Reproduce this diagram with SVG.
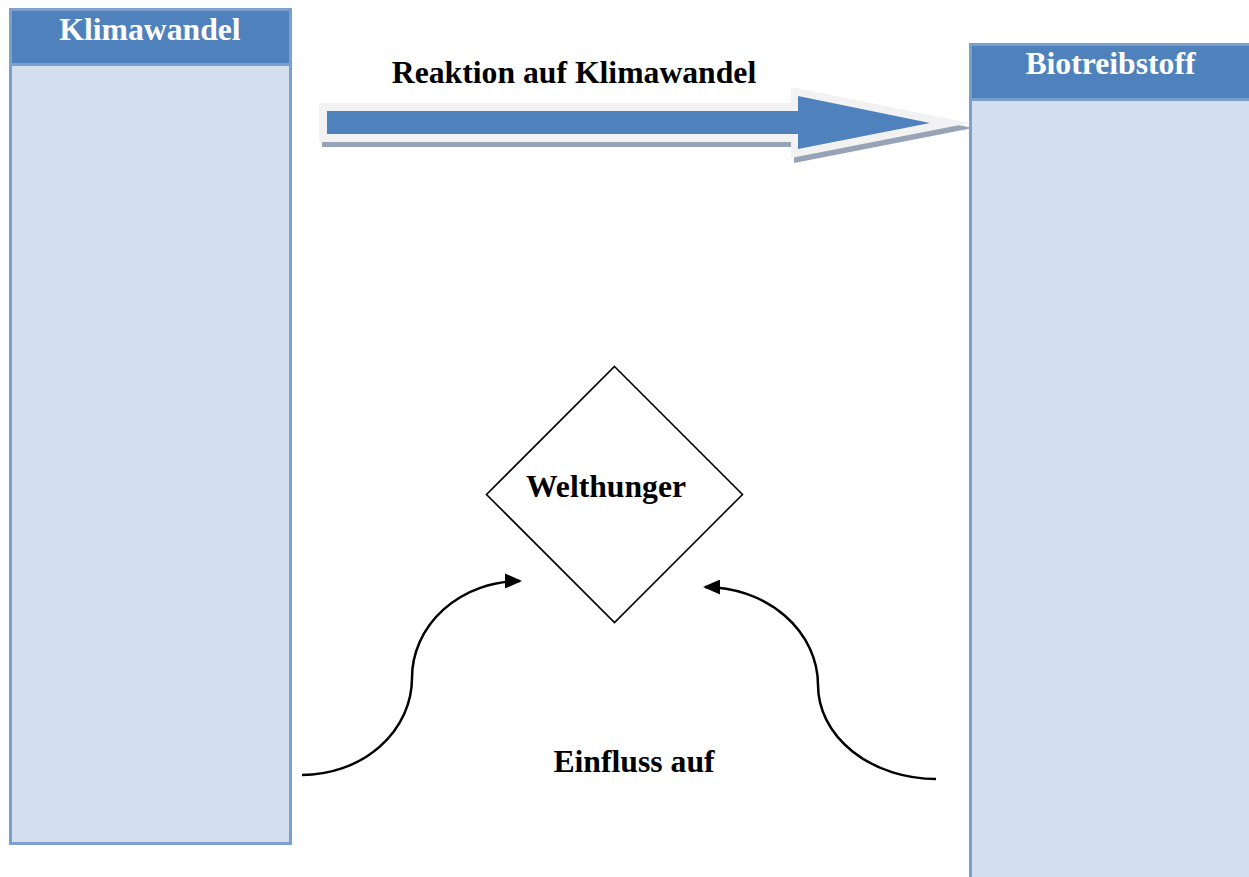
<svg xmlns="http://www.w3.org/2000/svg" width="1249" height="877" viewBox="0 0 1249 877">
<style>
.box{fill:#d3dfee;stroke:#7ba0cd;stroke-width:3}
.hdr{fill:#4f81bd}
.sep{stroke:#7ba0cd;stroke-width:3}
.t{font-family:"Liberation Serif","Times New Roman",serif;font-weight:bold;font-size:31.7px}
.w{fill:#ffffff}
.k{fill:#000000}
.curve{fill:none;stroke:#000;stroke-width:2.5}
</style>
<defs>
<marker id="ah" viewBox="0 0 17 15" refX="15" refY="7.5" markerWidth="17" markerHeight="15" markerUnits="userSpaceOnUse" orient="auto">
<path d="M0,0 L17,7.5 L0,15 Z" fill="#000"/>
</marker>
</defs>
<rect width="1249" height="877" fill="#ffffff"/>
<g id="klimawandel">
<rect class="box" x="10.5" y="9.5" width="280" height="834"/>
<rect class="hdr" x="12" y="11" width="277" height="52"/>
<line class="sep" x1="12" y1="64.5" x2="289" y2="64.5"/>
<text class="t w" x="150" y="40" text-anchor="middle">Klimawandel</text>
</g>
<g id="biotreibstoff">
<rect class="box" x="970.5" y="44.5" width="280" height="840"/>
<rect class="hdr" x="972" y="46" width="277" height="52"/>
<line class="sep" x1="972" y1="99.5" x2="1249" y2="99.5"/>
<text class="t w" x="1110.5" y="74" text-anchor="middle">Biotreibstoff</text>
</g>
<g id="welthunger">
<polygon points="614.5,366.5 742.5,494.5 614.5,622.5 486.5,494.5" fill="#ffffff" stroke="#000" stroke-width="1.6"/>
<text class="t k" x="606" y="497" text-anchor="middle">Welthunger</text>
</g>
<g id="connectors">
<g id="block-arrow">
<polygon points="322,108 794,108 794,92 973,128 794,163 794,147 322,147" fill="#97a3b6"/>
<polygon points="319,103 791,103 791,87 970,123 791,158 791,142 319,142" fill="#f2f2f2"/>
<polygon points="327,111 798,111 798,96 930,123 798,149 798,134 327,134" fill="#4f81bd"/>
</g>
<text class="t k" x="574" y="83" text-anchor="middle">Reaktion auf Klimawandel</text>
<path class="curve" d="M302,775 A110,97 0 0 0 412,678 A108,97 0 0 1 520,581" marker-end="url(#ah)"/>
<path class="curve" d="M936,779 A118,94 0 0 1 818,685 A113,98 0 0 0 705,587" marker-end="url(#ah)"/>
<text class="t k" x="634" y="772" text-anchor="middle">Einfluss auf</text>
</g>
</svg>
